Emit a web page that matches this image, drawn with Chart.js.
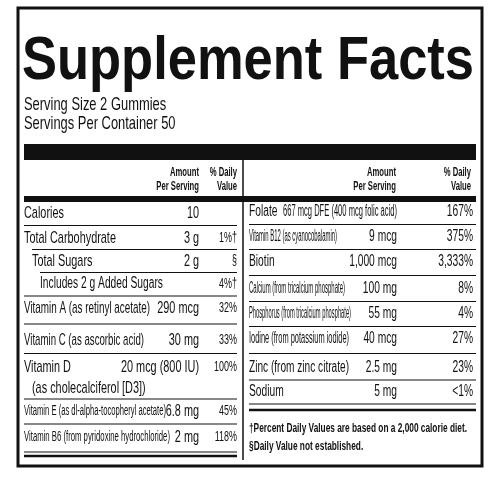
<!DOCTYPE html>
<html>
<head>
<meta charset="utf-8">
<script src="https://cdn.jsdelivr.net/npm/chart.js@4.4.0/dist/chart.umd.min.js"></script>
<style>
  html, body { margin: 0; padding: 0; background: #fff; }
  #wrap { width: 500px; height: 500px; }
</style>
</head>
<body>
<div id="wrap"><canvas id="label"></canvas></div>
<script>
// ==== DATOS ====
const title = "Supplement Facts";
const servingLines = ["Serving Size 2 Gummies", "Servings Per Container 50"];
const headAmount = ["Amount", "Per Serving"];
const headDV = ["% Daily", "Value"];

const leftNames = ["Calories", "Total Carbohydrate", "Total Sugars", "Includes 2 g Added Sugars",
  "Vitamin A (as retinyl acetate)", "Vitamin C (as ascorbic acid)", "Vitamin D",
  "Vitamin E (as dl-alpha-tocopheryl acetate)", "Vitamin B6 (from pyridoxine hydrochloride)"];
const leftAmounts = ["10", "3 g", "2 g", "", "290 mcg", "30 mg", "20 mcg (800 IU)", "6.8 mg", "2 mg"];
const leftDV = ["", "1%†", "§", "4%†", "32%", "33%", "100%", "45%", "118%"];
const leftSub = ["", "", "", "", "", "", "(as cholecalciferol [D3])", "", ""];

const rightNames = ["Folate", "Vitamin B12 (as cyanocobalamin)", "Biotin", "Calcium (from tricalcium phosphate)",
  "Phosphorus (from tricalcium phosphate)", "Iodine (from potassium iodide)", "Zinc (from zinc citrate)", "Sodium"];
const rightAmounts = ["667 mcg DFE (400 mcg folic acid)", "9 mcg", "1,000 mcg", "100 mg", "55 mg", "40 mcg", "2.5 mg", "5 mg"];
const rightDV = ["167%", "375%", "3,333%", "8%", "4%", "27%", "23%", "<1%"];

const footnotes = ["†Percent Daily Values are based on a 2,000 calorie diet.", "§Daily Value not established."];

// ==== LAYOUT ====
const F = "'Liberation Sans', Arial, sans-serif";
const leftRowY = [213, 238, 261, 284, 308, 340, 367, 411, 437];
const leftRowSize = [17, 17, 17, 16, 17, 17, 17, 14, 14];
const leftIndent = [24, 24, 32, 40, 24, 24, 24, 24, 24];
const leftNameMax = [150, 150, 150, 150, 126, 120, 150, 142, 146];
const rightRowY = [212, 237, 262, 289, 314, 339, 368, 392];
const rightNameMax = [40, 88, 40, 96, 102, 100, 100, 40];

const labelPlugin = {
  id: "labelPlugin",
  afterDraw(chart) {
    const c = chart.ctx, sx = chart.scales.x, sy = chart.scales.y;
    const X = v => sx.getPixelForValue(v), Y = v => sy.getPixelForValue(v);
    // condensed text: squeezed horizontally, optionally fit into maxW
    const text = (s, x, y, size, weight, align, maxW, kk) => {
      c.save();
      c.font = (weight || "normal") + " " + size + "px " + F;
      c.textAlign = align || "left";
      c.textBaseline = "middle";
      c.fillStyle = "#111";
      let k = kk || 0.64;
      const w = c.measureText(s).width * k;
      if (maxW && w > maxW) k = k * maxW / w;
      c.translate(X(x), Y(y));
      c.scale(k, 1);
      c.fillText(s, 0, 0);
      c.restore();
    };
    const line = (x1, y1, x2, y2, w) => {
      c.beginPath(); c.lineWidth = w; c.strokeStyle = "#111";
      c.moveTo(X(x1), Y(y1)); c.lineTo(X(x2), Y(y2)); c.stroke();
    };
    const rect = (x1, y1, x2, y2) => {
      c.fillStyle = "#111"; c.fillRect(X(x1), Y(y1), X(x2) - X(x1), Y(y2) - Y(y1));
    };
    c.save();
    // outer box
    c.lineWidth = 3; c.strokeStyle = "#111";
    c.strokeRect(X(18), Y(8), X(482) - X(18), Y(466) - Y(8));
    // title
    c.save();
    c.font = "bold 62px 'Liberation Sans', Arial, sans-serif";
    c.textAlign = "left"; c.textBaseline = "alphabetic"; c.fillStyle = "#111";
    const tw = c.measureText(title).width;
    c.translate(X(22), Y(79));
    c.scale(452 / tw, 1);
    c.fillText(title, 0, 0);
    c.restore();
    text(servingLines[0], 24, 105, 19, "normal", "left", null, 0.68);
    text(servingLines[1], 24, 124, 19, "normal", "left", null, 0.68);
    rect(24, 144, 476, 160);
    // divider between panels
    line(243, 160, 243, 460, 1.5);
    // headers
    text(headAmount[0], 199, 173, 12, "bold", "right");
    text(headAmount[1], 199, 187, 12, "bold", "right");
    text(headDV[0], 237, 173, 12, "bold", "right");
    text(headDV[1], 237, 187, 12, "bold", "right");
    text(headAmount[0], 396, 173, 12, "bold", "right");
    text(headAmount[1], 396, 187, 12, "bold", "right");
    text(headDV[0], 471, 173, 12, "bold", "right");
    text(headDV[1], 471, 187, 12, "bold", "right");
    rect(24, 196, 476, 202);
    // left rows
    leftNames.forEach((n, i) => {
      const y = leftRowY[i];
      text(n, leftIndent[i], y, leftRowSize[i], "normal", "left", leftNameMax[i]);
      if (leftAmounts[i]) text(leftAmounts[i], 199, y, 17, "normal", "right");
      if (leftDV[i]) text(leftDV[i], 237, y, 14, "normal", "right");
      if (leftSub[i]) text(leftSub[i], 32, y + 21, 17);
      const yb = (i < leftNames.length - 1) ? (leftRowY[i + 1] + y) / 2 + (leftSub[i] ? 10 : 0) : 452;
      const x0 = (i === 1 || i === 2) ? leftIndent[i + 1] : 24;
      line(x0, yb, 237, yb, 1);
    });
    line(24, 456, 237, 456, 2.5);
    // right rows
    rightNames.forEach((n, i) => {
      const y = rightRowY[i];
      text(n, 249, y, 16, "normal", "left", rightNameMax[i]);
      text(rightAmounts[i], 397, y, 16, "normal", "right", i === 0 ? 114 : null);
      text(rightDV[i], 473, y, 16, "normal", "right");
      const yb = (i < rightNames.length - 1) ? (rightRowY[i + 1] + y) / 2 : 404;
      line(249, yb, 476, yb, 1);
    });
    line(249, 410, 476, 410, 2.5);
    text(footnotes[0], 249, 428, 13, "bold", "left", 218);
    text(footnotes[1], 249, 446, 13, "bold", "left", 218);
    c.restore();
  }
};

new Chart(document.getElementById("label"), {
  type: "scatter",
  data: { datasets: [{ data: [] }] },
  options: {
    responsive: true, maintainAspectRatio: false, animation: false,
    layout: { padding: 0 },
    plugins: { legend: { display: false }, tooltip: { enabled: false } },
    scales: {
      x: { type: "linear", min: 0, max: 500, display: false },
      y: { type: "linear", min: 0, max: 500, reverse: true, display: false }
    }
  },
  plugins: [labelPlugin]
});
</script>
</body>
</html>
